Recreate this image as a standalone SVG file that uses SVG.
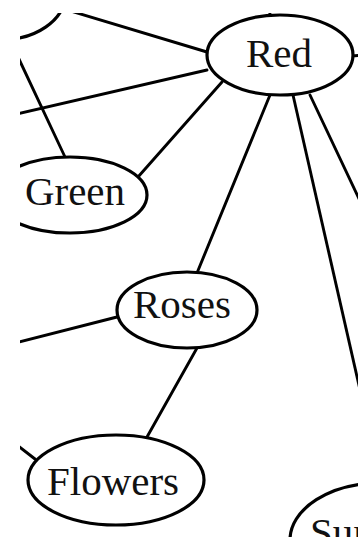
<svg xmlns="http://www.w3.org/2000/svg" width="358" height="537" viewBox="0 0 358 537">
  <defs>
    <style>
      .edge { stroke: #000; stroke-width: 2.9; fill: none; stroke-linecap: round; }
      .node ellipse { fill: #fff; stroke: #000; stroke-width: 3.2; }
      .node text { font-family: "Liberation Serif", "Times New Roman", serif; font-size: 41px; fill: #111; text-anchor: middle; }
    </style>
    <clipPath id="view">
      <rect x="20" y="13" width="338" height="524"/>
    </clipPath>
  </defs>
  <rect x="0" y="0" width="358" height="537" fill="#fff"/>
  <g clip-path="url(#view)">
    <g id="connectors">
      <line class="edge" x1="34" y1="0" x2="207" y2="52"/>
      <line class="edge" x1="0" y1="118" x2="207" y2="70"/>
      <line class="edge" x1="222" y1="82" x2="138" y2="177"/>
      <line class="edge" x1="10" y1="40" x2="65" y2="157"/>
      <line class="edge" x1="270" y1="95" x2="197" y2="273"/>
      <line class="edge" x1="293" y1="95" x2="368" y2="425"/>
      <line class="edge" x1="310" y1="95" x2="370" y2="222"/>
      <line class="edge" x1="270" y1="15" x2="269" y2="0"/>
      <line class="edge" x1="352" y1="56" x2="365" y2="55"/>
      <line class="edge" x1="0" y1="347" x2="117" y2="317"/>
      <line class="edge" x1="197" y1="348" x2="147" y2="437"/>
      <line class="edge" x1="0" y1="432" x2="35" y2="459"/>
    </g>
    <g id="node-topleft" class="node">
      <ellipse cx="0" cy="-5" rx="65" ry="45"/>
    </g>
    <g id="node-red" class="node">
      <ellipse cx="280" cy="55" rx="73" ry="40"/>
      <text x="279" y="67">Red</text>
    </g>
    <g id="node-green" class="node">
      <ellipse cx="70" cy="195" rx="77" ry="38"/>
      <text x="75" y="205">Green</text>
    </g>
    <g id="node-roses" class="node">
      <ellipse cx="187" cy="310" rx="70" ry="38"/>
      <text x="182" y="318">Roses</text>
    </g>
    <g id="node-flowers" class="node">
      <ellipse cx="116" cy="480" rx="88" ry="45"/>
      <text x="113" y="495">Flowers</text>
    </g>
    <g id="node-sun" class="node">
      <ellipse cx="380" cy="540" rx="90" ry="57"/>
      <text x="310" y="546" style="text-anchor:start">Sun</text>
    </g>
  </g>
</svg>
